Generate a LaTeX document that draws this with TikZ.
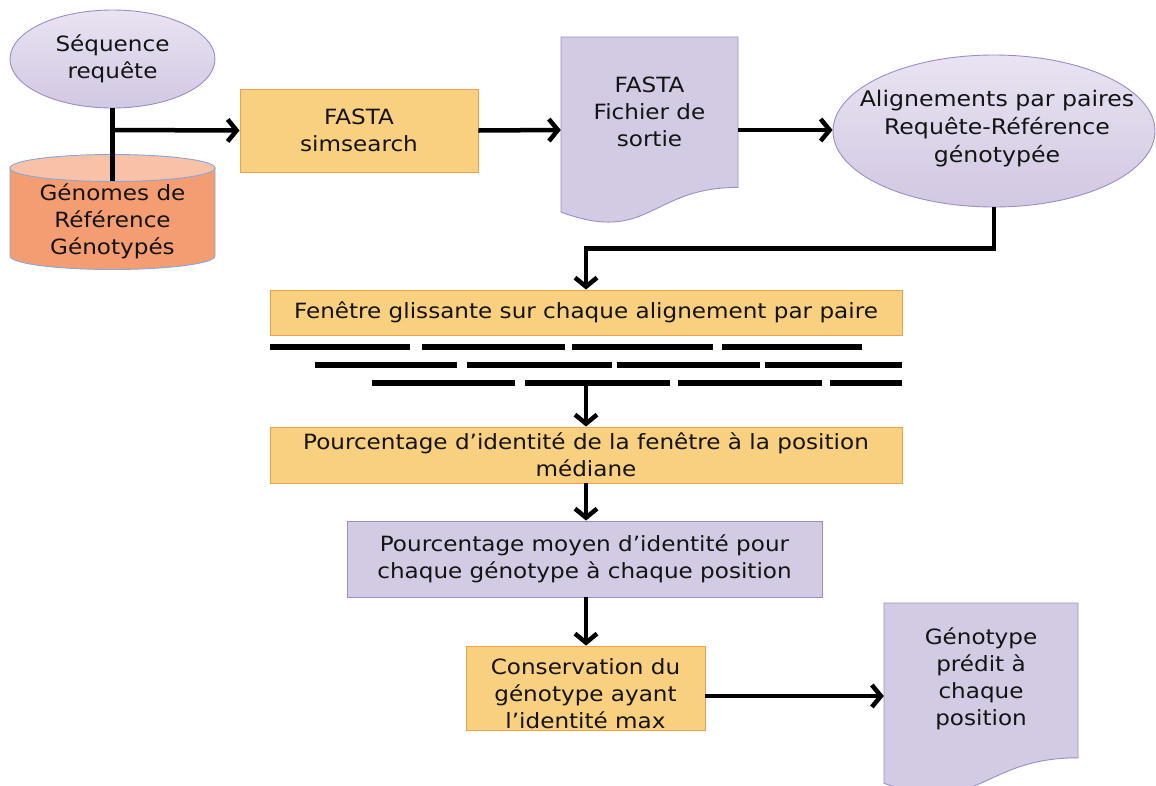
\documentclass[tikz,border=0pt]{standalone}
\usepackage{fontspec}
\setmainfont{DejaVu Sans}[FakeStretch=1.1]
\usetikzlibrary{arrows.meta,shapes.geometric}
\definecolor{boxfill}{HTML}{F9D07F}
\definecolor{boxline}{HTML}{F4A04A}
\definecolor{lavfill}{HTML}{D3CBE3}
\definecolor{lavline}{HTML}{9F8CC6}
\definecolor{ovaltop}{HTML}{E9E3F2}
\definecolor{ovalbot}{HTML}{D2C8E2}
\definecolor{cylbody}{HTML}{F59D72}
\definecolor{cyltop}{HTML}{F9C2A8}
\definecolor{cylline}{HTML}{86A8D8}
\definecolor{inktext}{HTML}{141414}
\begin{document}
\begin{tikzpicture}[x=1pt,y=-1pt,
  font=\fontsize{21}{27}\selectfont,
  every node/.style={text=inktext},
  stepbox/.style={rectangle, draw=boxline, fill=boxfill, line width=0.9pt, inner sep=0pt, align=center},
  lavbox/.style={rectangle, draw=lavline, fill=lavfill, line width=0.9pt, inner sep=0pt, align=center},
  lavdoc/.style={draw=lavline, fill=lavfill, line width=0.9pt},
  oval/.style={ellipse, draw=lavline, line width=0.9pt, top color=ovaltop, bottom color=ovalbot, inner sep=0pt, align=center},
  ghost/.style={rectangle, inner sep=0pt},
  label/.style={align=center, inner sep=0pt},
  flow/.style={line width=4.5pt, -{Straight Barb[length=9pt,width=22pt]}},
  link/.style={line width=4.5pt},
  alnbar/.style={line width=6pt}
]
\useasboundingbox (0,0) rectangle (1156,785);

% reference genomes (cylinder)
\path[fill=cylbody, draw=cylline, line width=0.9pt]
  (10,168) -- (10,256) arc[start angle=180, end angle=0, x radius=102.5, y radius=13.5] -- (215,168) -- cycle;
\path[fill=cyltop, draw=cylline, line width=0.9pt] (112.5,168) ellipse[x radius=102.5, y radius=13.5];
\node[ghost, minimum width=205pt, minimum height=115pt] (genomes) at (112.5,212.5) {};
\node[label] (genomestext) at (112.5,221) {Génomes de\\Référence\\Génotypés};

% query sequence
\node[oval, minimum width=205pt, minimum height=98pt] (query) at (112.5,59) {};
\node[label] (querytext) at (112.5,59) {Séquence\\requête};

% FASTA search
\node[stepbox, minimum width=238pt, minimum height=83pt] (sims) at (359,130.5) {FASTA\\simsearch};

% FASTA output document
\draw[lavdoc] (561,37) -- (738,37) -- (738,187.4)
  .. controls (649.5,187.4) and (649.5,244.6) .. (561,212.1) -- cycle;
\node[ghost, minimum width=177pt, minimum height=186pt] (fastaout) at (649.5,130) {};
\node[label] (fastaouttext) at (649.5,112) {FASTA\\Fichier de\\sortie};

% pairwise alignments
\node[oval, minimum width=322pt, minimum height=152pt] (pairs) at (994,131) {};
\node[label, font=\fontsize{21.5}{28}\selectfont] (pairstext) at (997,129) {Alignements par paires\\Requête-Référence\\génotypée};

% sliding window
\node[stepbox, minimum width=632pt, minimum height=45pt] (window) at (586,312.5) {Fenêtre glissante sur chaque alignement par paire};

% staggered windows
\draw[alnbar] (270,347) -- (410,347) (422,347) -- (565,347) (572,347) -- (713,347) (722,347) -- (862,347);
\draw[alnbar] (315,365) -- (457,365) (467,365) -- (612,365) (617,365) -- (760,365) (765,365) -- (902,365);
\draw[alnbar] (372,383) -- (515,383) (525,383) -- (670,383) (678,383) -- (822,383) (830,383) -- (902,383);
\coordinate (windowsout) at (586,383);

% identity at median position
\node[stepbox, minimum width=632pt, minimum height=56pt] (median) at (586,455) {Pourcentage d’identité de la fenêtre à la position\\médiane};

% mean identity per genotype
\node[lavbox, minimum width=475pt, minimum height=76pt] (mean) at (584.5,559) {Pourcentage moyen d’identité pour\\chaque génotype à chaque position};

% keep best genotype
\node[stepbox, minimum width=239pt, minimum height=84pt] (keep) at (585.5,688) {};
\node[label] (keeptext) at (585.5,694) {Conservation du\\génotype ayant\\l’identité max};

% predicted genotype document
\draw[lavdoc] (884,603) -- (1078,603) -- (1078,757.8)
  .. controls (981,757.8) and (981,816.7) .. (884,783.3) -- cycle;
\node[ghost, minimum width=194pt, minimum height=186pt] (predicted) at (981,696) {};
\node[label] (predictedtext) at (981,679) {Génotype\\prédit à\\chaque\\position};

% connectors
\coordinate (merge) at (112.5,130);
\coordinate (cylin) at (112.5,181);
\draw[link] (query.south) -- (cylin);
\draw[flow] (merge) -- (sims.west);
\draw[flow] (sims.east) -- (fastaout.west);
\draw[flow] (fastaout.east) -- (fastaout.east -| pairs.west);
\draw[flow] (pairs.south) -- ++(0,41) -| (window.north);
\draw[flow] (windowsout) -- (median.north);
\draw[flow] (median.south) -- (median.south |- mean.north);
\draw[flow] (median.south |- mean.south) -- (median.south |- keep.north);
\draw[flow] (keep.east |- predicted.west) -- (predicted.west);
\end{tikzpicture}
\end{document}
